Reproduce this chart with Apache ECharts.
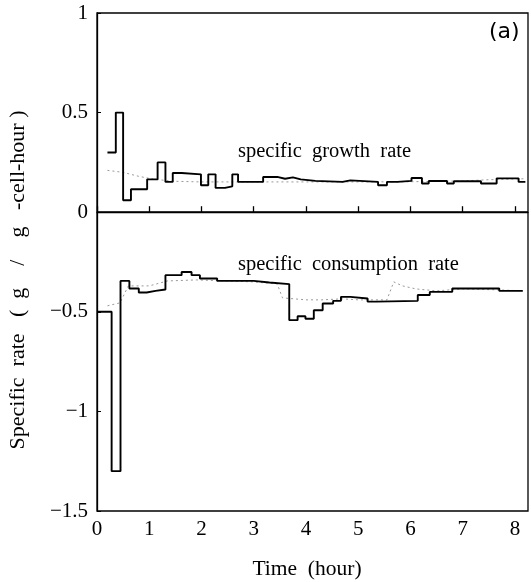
<!DOCTYPE html>
<html>
<head>
<meta charset="utf-8">
<script src="https://cdn.jsdelivr.net/npm/echarts@6/dist/echarts.min.js"></script>
<style>
  html, body { margin: 0; padding: 0; background: #fff; }
  #chart { width: 531px; height: 582px; }
</style>
</head>
<body>
<div id="chart"></div>
<script>
// Measured specific growth rate: each entry starts a new level (hours, g/g-cell-hour)
const growthTimes = [0.20, 0.36, 0.50, 0.65, 0.96, 1.16, 1.31, 1.45, 1.62, 1.99, 2.13, 2.27, 2.45, 2.59, 2.70,
  3.18, 3.45, 3.60, 3.75, 3.90, 4.18, 4.70, 4.85, 5.38, 5.55, 5.75, 6.02, 6.22, 6.35, 6.70, 6.83, 7.35, 7.65, 8.07, 8.20];
const growthRates = [0.30, 0.50, 0.06, 0.115, 0.165, 0.25, 0.152, 0.197, 0.19, 0.135, 0.19, 0.122, 0.13, 0.19, 0.152,
  0.177, 0.168, 0.175, 0.165, 0.157, 0.152, 0.16, 0.152, 0.135, 0.152, 0.157, 0.172, 0.144, 0.157, 0.144, 0.155, 0.144, 0.17, 0.152, 0.152];

// Model estimate of the growth rate
const growthModelTimes = [0.20, 0.50, 0.80, 1.10, 1.50, 2.00, 3.00, 4.00, 5.00, 6.00, 7.00, 7.50, 8.20];
const growthModelRates = [0.21, 0.20, 0.18, 0.165, 0.155, 0.152, 0.152, 0.152, 0.152, 0.153, 0.157, 0.163, 0.168];

// Measured specific consumption rate
const consumptionTimes = [0.00, 0.28, 0.45, 0.62, 0.80, 0.95, 1.12, 1.31, 1.62, 1.81, 1.97, 2.30, 3.00, 3.30,
  3.68, 3.84, 3.99, 4.15, 4.32, 4.52, 4.67, 4.85, 5.18, 5.35, 6.14, 6.37, 6.80, 7.70, 8.15];
const consumptionRates = [-0.50, -1.30, -0.345, -0.383, -0.403, -0.395, -0.388, -0.316, -0.30, -0.316, -0.333, -0.345, -0.353, -0.361,
  -0.542, -0.522, -0.535, -0.492, -0.458, -0.445, -0.425, -0.433, -0.449, -0.445, -0.416, -0.40, -0.383, -0.395, -0.395];

// Model estimate of the consumption rate
const consumptionModelTimes = [0.20, 0.44, 0.60, 1.00, 1.35, 1.90, 2.50, 3.00, 3.45, 3.55, 4.00, 4.30, 4.70, 5.00, 5.55, 5.68, 5.85, 6.10, 6.50, 7.00, 7.70, 8.15];
const consumptionModelRates = [-0.47, -0.455, -0.37, -0.37, -0.345, -0.34, -0.345, -0.35, -0.36, -0.43, -0.44, -0.44, -0.435, -0.44, -0.44, -0.35, -0.37, -0.385, -0.395, -0.385, -0.39, -0.395];

const timeTicks = [0, 1, 2, 3, 4, 5, 6, 7, 8];
const rateTicks = [-1.5, -1, -0.5, 0, 0.5, 1];

const pairs = (xs, ys) => xs.map((x, i) => [x, ys[i]]);
const serif = 'Liberation Serif';
const minus = v => String(v).replace('-', '\u2212');

const chart = echarts.init(document.getElementById('chart'), null, { renderer: 'canvas' });

chart.setOption({
  animation: false,
  backgroundColor: '#fff',
  grid: {
    left: 97, right: 3, top: 13, bottom: 71,
    show: true, borderColor: '#000', borderWidth: 1.3,
    outerBoundsMode: 'none'
  },
  xAxis: {
    type: 'value', min: 0, max: 8.25,
    axisLine: { show: true, lineStyle: { color: '#000', width: 1.3 } },
    axisTick: { show: true, inside: true, length: 6, customValues: timeTicks, lineStyle: { color: '#000', width: 1.3 } },
    axisLabel: { customValues: timeTicks, margin: 8, color: '#000', fontFamily: serif, fontSize: 21 },
    splitLine: { show: false }
  },
  yAxis: {
    type: 'value', min: -1.5, max: 1, interval: 0.5,
    axisLine: { show: true, lineStyle: { color: '#000', width: 1.3 } },
    axisTick: { show: true, inside: true, length: 4, customValues: rateTicks, lineStyle: { color: '#000', width: 1 } },
    axisLabel: { customValues: rateTicks, margin: 9, color: '#000', fontFamily: serif, fontSize: 21, formatter: minus },
    splitLine: { show: false }
  },
  series: [
    {
      name: 'growth model', type: 'line', symbol: 'none',
      data: pairs(growthModelTimes, growthModelRates),
      lineStyle: { color: '#9a9a9a', width: 1, type: [2, 3] }
    },
    {
      name: 'consumption model', type: 'line', symbol: 'none',
      data: pairs(consumptionModelTimes, consumptionModelRates),
      lineStyle: { color: '#9a9a9a', width: 1, type: [2, 3] }
    },
    {
      name: 'specific growth rate', type: 'line', step: 'end', symbol: 'none',
      data: pairs(growthTimes, growthRates),
      lineStyle: { color: '#000', width: 1.9 },
      markLine: {
        silent: true, symbol: 'none', label: { show: false },
        lineStyle: { color: '#000', width: 1.5, type: 'solid' },
        data: [{ yAxis: 0 }]
      }
    },
    {
      name: 'specific consumption rate', type: 'line', step: 'end', symbol: 'none',
      data: pairs(consumptionTimes, consumptionRates),
      lineStyle: { color: '#000', width: 1.9 }
    }
  ],
  graphic: [
    { type: 'text', left: 238, top: 141, style: { text: 'specific  growth  rate', font: '20.5px "Liberation Serif"', fill: '#000' } },
    { type: 'text', left: 238, top: 254, style: { text: 'specific  consumption  rate', font: '20.5px "Liberation Serif"', fill: '#000' } },
    { type: 'text', left: 489, top: 21, style: { text: '(a)', font: '22px "DejaVu Sans"', fill: '#000' } },
    { type: 'text', x: 307, y: 569, style: { text: 'Time  (hour)', font: '21.5px "Liberation Serif"', fill: '#000', align: 'center', verticalAlign: 'middle' } },
    { type: 'text', x: 18, y: 280, rotation: Math.PI / 2,
      style: { text: 'Specific  rate   (  g    /    g   -cell-hour )', font: '22px "Liberation Serif"', fill: '#000', align: 'center', verticalAlign: 'middle' } }
  ]
});
</script>
</body>
</html>
